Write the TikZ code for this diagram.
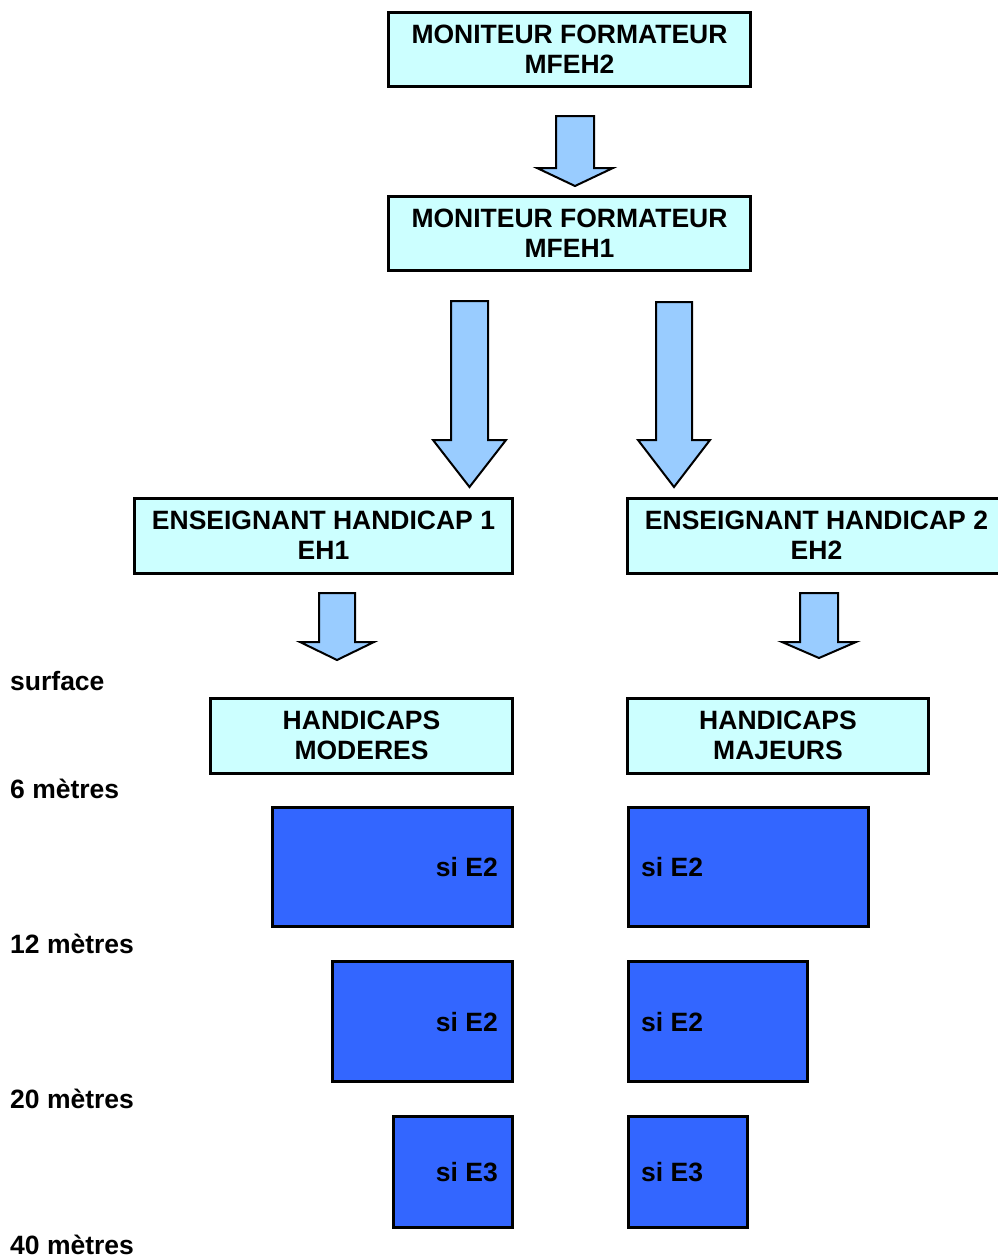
\documentclass[tikz,border=0pt]{standalone}
\usepackage{fontspec}
\setmainfont{Liberation Sans}
\definecolor{boxcyan}{HTML}{CCFFFF}
\definecolor{arrowblue}{HTML}{99CCFF}
\definecolor{deepblue}{HTML}{3366FF}
\newcommand{\barrow}[6]{%
  \draw[blockarrow] ({#1-#5},#2) -- ({#1+#5},#2) -- ({#1+#5},#3) -- ({#1+#6},#3)
    -- (#1,#4) -- ({#1-#6},#3) -- ({#1-#5},#3) -- cycle;}
\begin{document}
\begin{tikzpicture}[x=1pt,y=-1pt,
  every node/.style={font=\fontsize{26.5}{30}\selectfont\bfseries, inner sep=0pt},
  cbox/.style={draw=black, line width=3pt, fill=boxcyan, align=center},
  dbox/.style={draw=black, line width=3pt, fill=deepblue},
  blockarrow/.style={draw=black, line width=2pt, fill=arrowblue, line join=miter},
  depth/.style={anchor=base west}]
\useasboundingbox (0,0) rectangle (998,1258);
% top boxes
\node[cbox, minimum width=362, minimum height=74] (mf2) at (569.5,49) {MONITEUR FORMATEUR\\MFEH2};
\node[cbox, minimum width=362, minimum height=74] (mf1) at (569.5,233) {MONITEUR FORMATEUR\\MFEH1};
\node[cbox, minimum width=378, minimum height=75] (eh1) at (323.5,535.5) {ENSEIGNANT HANDICAP 1\\EH1};
\node[cbox, minimum width=378, minimum height=75] (eh2) at (816.5,535.5) {ENSEIGNANT HANDICAP 2\\EH2};
\node[cbox, minimum width=302, minimum height=75] (hmod) at (361.5,735.5) {HANDICAPS\\MODERES};
\node[cbox, minimum width=301, minimum height=75] (hmaj) at (778,735.5) {HANDICAPS\\MAJEURS};
% block arrows
\barrow{575}{116}{168}{186}{19}{38}
\barrow{469.5}{301}{440}{487}{18.5}{36.5}
\barrow{674}{302}{440}{487}{18}{36}
\barrow{337}{593}{642}{660}{18}{37}
\barrow{819}{593}{642}{658}{19}{37}
% depth boxes
\draw[dbox] (272,807) rectangle (512.5,926.5);
\draw[dbox] (628.5,807) rectangle (868.5,926.5);
\draw[dbox] (332,961.5) rectangle (512.5,1081.5);
\draw[dbox] (628.5,961.5) rectangle (807.5,1081.5);
\draw[dbox] (393,1116.5) rectangle (512.5,1227.5);
\draw[dbox] (628.5,1116.5) rectangle (747.5,1227.5);
\node[anchor=base east] (l1) at (498,876) {si E2};
\node[anchor=base west] (r1) at (641,876) {si E2};
\node[anchor=base east] (l2) at (498,1031) {si E2};
\node[anchor=base west] (r2) at (641,1031) {si E2};
\node[anchor=base east] (l3) at (498,1181) {si E3};
\node[anchor=base west] (r3) at (641,1181) {si E3};
% depth labels
\node[depth] (d0) at (10,690) {surface};
\node[depth] (d6) at (10,798) {6 mètres};
\node[depth] (d12) at (10,953) {12 mètres};
\node[depth] (d20) at (10,1108) {20 mètres};
\node[depth] (d40) at (10,1254) {40 mètres};
\end{tikzpicture}
\end{document}
